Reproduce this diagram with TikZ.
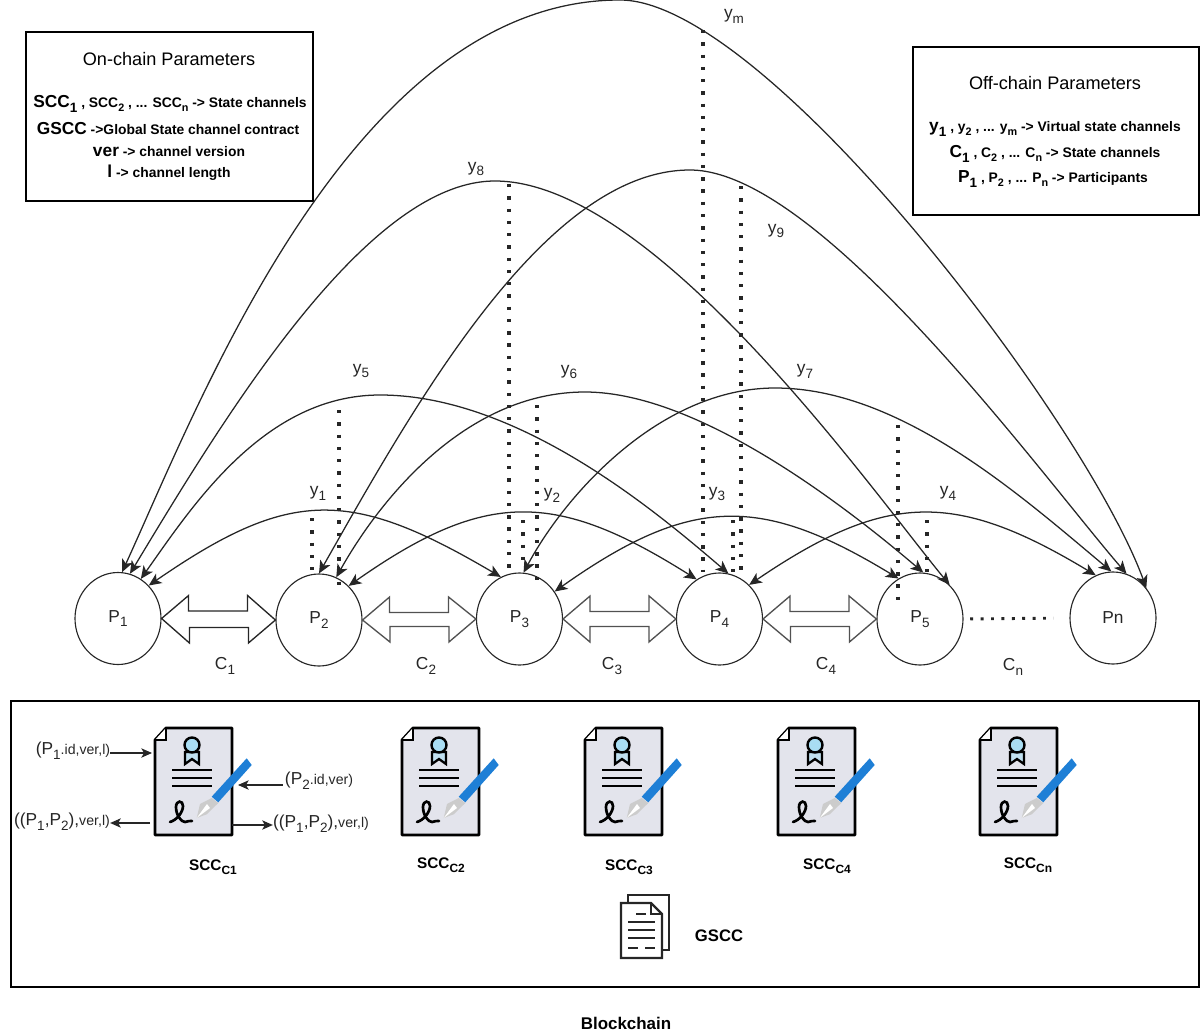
\documentclass[tikz,border=0pt]{standalone}
\usepackage{fontspec}
\setmainfont{Liberation Sans}
\usetikzlibrary{arrows.meta,shapes.geometric}
\newcommand\fz[1]{\fontsize{#1}{#1}\selectfont}
\newcommand\sbs[1]{\raisebox{-.28em}{\scalebox{.78}{#1}}}
\definecolor{ink}{HTML}{262626}
\definecolor{pagefill}{HTML}{E3E4EC}
\definecolor{penblue}{HTML}{1E7FD6}
\definecolor{medal}{HTML}{A9DDF3}
\tikzset{
  peer/.style={draw=ink,ellipse,line width=.85pt,minimum width=64.5pt,minimum height=69pt,inner sep=0pt,text=ink,font=\fz{13}},
  vlink/.style={draw=ink,line width=.95pt,{Stealth[length=9.5pt,width=8.5pt,inset=2.5pt]}-{Stealth[length=9.5pt,width=8.5pt,inset=2.5pt]}},
  dots/.style={draw=ink,line width=2.7pt,dash pattern=on 2.5pt off 6.7pt},
  lbl/.style={text=ink,inner sep=0pt,font=\fz{13}},
  small/.style={text=ink,inner sep=0pt,font=\fz{13}},
  boxtxt/.style={text=black,inner sep=0pt,font=\fz{10.4}\bfseries},
  frame/.style={draw=black,line width=.9pt},
  chan/.style={draw=ink,line width=1pt,fill=white,line join=miter},
  tiny arrow/.style={draw=ink,line width=.85pt,-{Stealth[length=8pt,width=7pt,inset=2pt]}},
  contract/.pic={
    \fill[pagefill] (0,10) -- (10,0) -- (77,0) -- (77,107) -- (0,107) -- cycle;
    \draw[black,line width=2.1pt,line join=round] (0,12) -- (11,0) -- (77,0) -- (77,107) -- (0,107) -- cycle;
    \draw[black,line width=1.3pt,fill=white] (0,12) -- (11,12) -- (11,0);
    \draw[black,line width=1.7pt,fill=medal!60!pagefill] (30,24) -- (30,36) -- (37,31) -- (44,36) -- (44,24) -- cycle;
    \draw[black,line width=1.8pt,fill=medal] (37,17) circle (7.5);
    \draw[black,line width=2.1pt] (17,42) -- (57,42) (17,50) -- (57,50) (17,58) -- (57,58);
    \draw[black,line width=2pt,line cap=round] (15,94) .. controls (22,92) and (28,84) .. (28,78) .. controls (28,72) and (21,72) .. (21,79) .. controls (21,87) and (26,94) .. (30,94) .. controls (33,94) and (34,92) .. (37,93);
    \fill[gray!40] (56.7,70) -- (45,76) -- (41.7,90) -- (51.7,86.3) -- (63.3,75) -- cycle;
    \fill[white] (41.7,90) -- (52,76) -- (55,80) -- cycle;
    \fill[penblue] (91.7,30.3) -- (96.7,37) -- (63.3,74.3) -- (56.7,68.7) -- cycle;
  },
  gdoc/.pic={
    \draw[ink,line width=1.6pt] (7,8) -- (7,0) -- (48,0) -- (48,55) -- (41,55);
    \draw[ink,line width=1.6pt,fill=white] (0,8) -- (30,8) -- (41,19) -- (41,63) -- (0,63) -- cycle;
    \draw[ink,line width=1.2pt] (30,8) -- (30,19) -- (41,19);
    \draw[ink,line width=1.6pt] (15,19) -- (25,19) (7,27) -- (34,27) (7,35) -- (34,35) (7,43) -- (34,43) (7,53) -- (17,53) (24,53) -- (34,53);
  },
}
\newcommand\chanarrow[3]{%
  \draw[chan,draw=#3] (#1.east) -- ++(27,-23) -- ++(0,15.5) -- ++(59,0) -- ++(0,-15.5) -- (#2.west) -- ++(-27,23) -- ++(0,-15.5) -- ++(-59,0) -- ++(0,15.5) -- cycle;}
\begin{document}
\begin{tikzpicture}[x=.75pt,y=-.75pt]
\useasboundingbox (0,0) rectangle (1200,1035);
\clip (0,0) rectangle (1200,1035);

% parameter boxes
\node[frame,minimum width=215.25pt,minimum height=126.75pt,inner sep=0pt] (onbox) at (169.5,116.5) {};
\node[frame,minimum width=214.5pt,minimum height=126pt,inner sep=0pt] (offbox) at (1056,131) {};
\node[frame,minimum width=891pt,minimum height=214.5pt,inner sep=0pt] (chain) at (605,844) {};

\node[lbl,text=black,font=\fz{13.6}] (ont) at (169,59) {On-chain Parameters};
\node[boxtxt] (on1) at (170,104) {{\fz{13}SCC\sbs{1}} , SCC\sbs{2} , ... SCC\sbs{n} -> State channels};
\node[boxtxt] (on2) at (168,129) {{\fz{13}GSCC} ->Global State channel contract};
\node[boxtxt] (on3) at (169,152) {{\fz{13}ver} -> channel version};
\node[boxtxt] (on4) at (169,173) {{\fz{13}l} -> channel length};

\node[lbl,text=black,font=\fz{13.6}] (offt) at (1055,83) {Off-chain Parameters};
\node[boxtxt] (of1) at (1055,129) {{\fz{13}y\sbs{1}} , y\sbs{2} , ... y\sbs{m} -> Virtual state channels};
\node[boxtxt] (of2) at (1055,154) {{\fz{13}C\sbs{1}} , C\sbs{2} , ... C\sbs{n} -> State channels};
\node[boxtxt] (of3) at (1053,179) {{\fz{13}P\sbs{1}} , P\sbs{2} , ... P\sbs{n} -> Participants};

% dotted guides
\foreach \n/\x/\a/\b in {d1/312/518/572, d5/339/410/592, d8/509/184/572, d2/523/520/562, d6/537/405/582, dm/703/30/572, d3/733/520/572, d9/741/186/572, d7/898/425/603, d4/927/520/572}{
  \coordinate (\n a) at (\x,\a);
  \coordinate (\n b) at (\x,\b);
  \draw[dots] (\n a) -- (\n b);
}

% participants
\node[peer] (p1) at (118,618.5) {P\sbs{1}};
\node[peer] (p2) at (319,620) {P\sbs{2}};
\node[peer] (p3) at (519.5,619) {P\sbs{3}};
\node[peer] (p4) at (719.5,619) {P\sbs{4}};
\node[peer] (p5) at (920,619) {P\sbs{5}};
\node[peer] (pn) at (1113,618) {Pn};

% crests of the long arcs
\coordinate (t5) at (380,395);
\coordinate (t6) at (585,392);
\coordinate (t7) at (775,388);
\coordinate (t8) at (495,181);
\coordinate (t9) at (690,170);
\coordinate (tm) at (620,0);

% virtual channels
\draw[vlink] (p1.47)  .. controls (290,488)  and (350,488)  .. (p3.114);
\draw[vlink] (p2.49)  .. controls (485,490)  and (555,490)  .. (p4.120);
\draw[vlink] (p3.38)  .. controls (691,495)  and (761,495)  .. (p5.118);
\draw[vlink] (p4.49)  .. controls (887,491)  and (956,491)  .. (pn.112);
\draw[vlink] (p1.60)  .. controls (193,505)  and (265,395)  .. (t5) .. controls (520,395) and (660,515) .. (p4.79);
\draw[vlink] (p2.68)  .. controls (379,501)  and (465,392)  .. (t6) .. controls (700,392) and (850,510) .. (p5.86);
\draw[vlink] (p3.85)  .. controls (565,495)  and (660,388)  .. (t7) .. controls (900,388) and (1020,495) .. (pn.92);
\draw[vlink] (p1.75)  .. controls (225,416)  and (367,181)  .. (t8) .. controls (655,181) and (875,495) .. (p5.49);
\draw[vlink] (p2.90)  .. controls (414,406)  and (545,170)  .. (t9) .. controls (820,170) and (1042,476) .. (pn.73);
\draw[vlink] (p1.85)  .. controls (200,402)  and (353,0)    .. (tm) .. controls (765,0)   and (1085,420) .. (pn.42);

% state channels
\chanarrow{p1}{p2}{ink}
\chanarrow{p2}{p3}{ink!80}
\chanarrow{p3}{p4}{ink!80}
\chanarrow{p4}{p5}{ink!80}
\draw[dots,line width=2.2pt,dash pattern=on 2.2pt off 5.6pt,shorten <=5pt,shorten >=12pt] (p5.east) -- (pn.west);

% labels
\foreach \n/\x/\y/\t in {a1/318/493/y\sbs{1},a2/552/495/y\sbs{2},a3/717/494/y\sbs{3},a4/948/493/y\sbs{4},a5/361/371/y\sbs{5},a6/569/372/y\sbs{6},a7/805/371/y\sbs{7},a8/476/169/y\sbs{8},a9/776/231/y\sbs{9},am/734/16/y\sbs{m},c1/225/666/C\sbs{1},c2/426/666/C\sbs{2},c3/612/666/C\sbs{3},c4/826/666/C\sbs{4},cn/1013/667/C\sbs{n}}{
  \node[lbl] (\n) at (\x,\y) {\t};
}

% contracts
\pic at (155,728) {contract};
\pic at (402,728) {contract};
\pic at (585,728) {contract};
\pic at (778,728) {contract};
\pic at (980,728) {contract};
\foreach \n/\x/\y/\t in {s1/213/867/C1,s2/441/865/C2,s3/629/867/C3,s4/827/866/C4,sn/1028/865/Cn}{
  \node[boxtxt,font=\fz{11.5}\bfseries] (\n) at (\x,\y) {SCC\sbs{\t}};
}

% contract inputs and outputs
\node[small] (i1) at (73,751) {(P\sbs{1}{\fz{10.6}.id,ver,l)}};
\coordinate (i1e) at (152,753);
\draw[tiny arrow] (i1.east) ++(0,2) -- (i1e);
\node[small] (i2) at (319,781) {(P\sbs{2}{\fz{10.6}.id,ver)}};
\coordinate (i2e) at (238,785);
\draw[tiny arrow] (i2.west) ++(-2,4) -- (i2e);
\node[small] (o1) at (62,822) {((P\sbs{1},P\sbs{2}),{\fz{10.6}ver,l)}};
\coordinate (o1s) at (150,823);
\draw[tiny arrow] (o1s) -- (o1.east |- o1s);
\node[small] (o2) at (321,824) {((P\sbs{1},P\sbs{2}),{\fz{10.6}ver,l)}};
\coordinate (o2s) at (232,825);
\draw[tiny arrow] (o2s) -- (o2.west |- o2s);

% global contract
\pic at (621,895) {gdoc};
\node[boxtxt,font=\fz{12.5}\bfseries] (gs) at (719,936) {GSCC};
\node[boxtxt,font=\fz{12.7}\bfseries] (bc) at (626,1023) {Blockchain};
\end{tikzpicture}
\end{document}
